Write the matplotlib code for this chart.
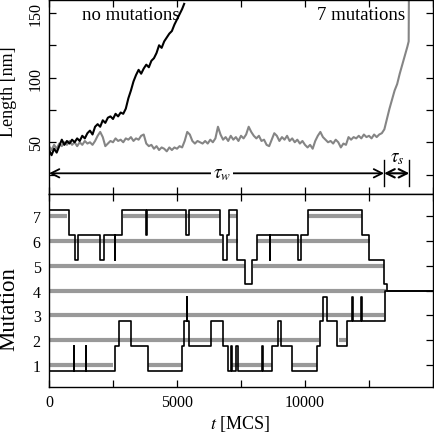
import matplotlib
matplotlib.use("Agg")
import matplotlib.pyplot as plt
import numpy as np
from matplotlib.ticker import MultipleLocator

plt.rcParams['font.family'] = ['Liberation Serif', 'DejaVu Serif']
plt.rcParams['mathtext.fontset'] = 'stix'

# ---------------- top panel data ----------------
gray_t = list(range(0, 14001, 100)) + [14050, 14060]
gray_len = [47, 44, 48, 45, 49, 47, 50, 48, 51, 48, 50,
            47, 50, 48, 51, 49, 50, 48, 51, 55, 58,
            54, 47, 49, 51, 50, 53, 51, 52, 50, 53,
            52, 54, 51, 53, 52, 55, 56, 49, 47, 48,
            45, 47, 44, 46, 45, 43, 46, 44, 46, 45,
            47, 46, 51, 58, 56, 51, 49, 51, 50, 49,
            51, 49, 52, 50, 53, 62, 56, 52, 54, 51,
            55, 52, 54, 51, 55, 53, 56, 62, 58, 55,
            53, 55, 51, 52, 48, 47, 52, 57, 55, 51,
            54, 52, 55, 51, 53, 50, 52, 49, 51, 48,
            46, 48, 45, 51, 55, 58, 54, 52, 50, 51,
            49, 52, 50, 46, 49, 48, 54, 52, 54, 53,
            55, 53, 56, 54, 55, 53, 56, 54, 56, 57,
            60, 68, 76, 83, 90, 95, 103, 110, 117, 124,
            128, 170]

black_t = list(range(0, 5201, 100)) + [5280]
black_len = [44, 40, 45, 42, 47, 52, 48, 51, 49, 52, 50,
             53, 51, 55, 53, 57, 59, 56, 62, 64, 62,
             67, 65, 69, 70, 68, 72, 70, 73, 72, 76,
             84, 90, 97, 102, 106, 103, 107, 110, 108, 113,
             115, 119, 125, 123, 128, 131, 134, 136, 141, 145,
             149, 153, 157]

tau_w_end = 13090
tau_s_end = 14075

# ---------------- bottom panel data ----------------
upper_t = [0, 790, 1000, 1150, 1992, 2148, 2560, 2580, 2870, 3780,
           3840, 5360, 5480, 6680, 6784, 6966, 7043, 7330, 7656, 7943,
           8112, 8625, 8645, 9740, 9830, 10130, 12214, 12500, 13100, 13190,
           15000]
upper_lv = [7.25, 6.25, 5.25, 6.25, 5.25, 6.25, 5.25, 6.25, 7.25, 6.25,
            7.25, 6.25, 7.25, 6.25, 5.25, 6.25, 7.25, 5.25, 4.25, 5.25,
            6.25, 5.25, 6.25, 5.25, 6.25, 7.25, 6.25, 5.25, 4.25, 4.0,
            4.0]

lower_t = [0, 970, 990, 1430, 1450, 2570, 2720, 3195, 3870, 5183,
           5286, 5390, 5410, 5460, 6320, 6810, 7005, 7100, 7130, 7290,
           7395, 8335, 8355, 8698, 8930, 9070, 9505, 10456, 10586, 10685,
           10870, 11237, 11654, 11830, 11870, 12200, 12225, 13110, 15000]
lower_lv = [0.75, 1.75, 0.75, 1.75, 0.75, 1.75, 2.75, 1.75, 0.75, 1.75,
            2.75, 3.75, 2.75, 1.75, 2.75, 1.75, 0.75, 1.75, 0.75, 1.75,
            0.75, 1.75, 0.75, 1.75, 2.75, 1.75, 0.75, 1.75, 2.75, 3.75,
            2.75, 1.75, 2.75, 3.75, 2.75, 3.75, 2.75, 4.0, 4.0]

gray_bars = {
    7: [(0, 690), (2900, 6680), (7043, 7330), (10130, 12214)],
    6: [(0, 6750), (6966, 7395), (8112, 12540)],
    5: [(0, 7650), (7950, 13086)],
    4: [(0, 13170)],
    3: [(0, 13080)],
    2: [(0, 10550), (11340, 11600)],
    1: [(0, 2512), (3870, 5200), (7100, 8700), (9505, 10456)],
}

W = 435
fig = plt.figure(figsize=(4.35, 4.35), dpi=100)
ax1 = fig.add_axes([49 / W, 1 - 195 / W, 384 / W, 194 / W])
ax2 = fig.add_axes([49 / W, 1 - 388 / W, 384 / W, 193 / W])

for ax in (ax1, ax2):
    ax.set_xlim(0, 15000)
    ax.xaxis.set_major_locator(MultipleLocator(5000))
    ax.xaxis.set_minor_locator(MultipleLocator(2500))
    ax.tick_params(which='both', direction='in', top=True, right=True,
                   length=5, width=0.9, labelsize=11.5)
    for s in ax.spines.values():
        s.set_linewidth(1.0)

# top panel
ax1.plot(gray_t, gray_len, color='#858585', lw=1.5)
ax1.plot(black_t, black_len, color='black', lw=1.5)
ax1.set_ylim(10, 160)
ax1.yaxis.set_major_locator(MultipleLocator(50))
ax1.yaxis.set_minor_locator(MultipleLocator(25))
ax1.tick_params(axis='x', labelbottom=False)
ax1.set_yticks([50, 100, 150])
ax1.set_yticklabels(['50', '100', '150'], rotation=90, va='center')

ax1.annotate('', xy=(0, 26), xytext=(tau_w_end, 26),
             arrowprops=dict(arrowstyle='<->,head_length=0.6,head_width=0.3',
                             lw=1.3, color='black', shrinkA=0, shrinkB=0))
ax1.annotate('', xy=(tau_w_end, 26), xytext=(tau_s_end, 26),
             arrowprops=dict(arrowstyle='<->,head_length=0.6,head_width=0.3',
                             lw=1.5, color='black', shrinkA=0, shrinkB=0))
ax1.plot([tau_w_end, tau_w_end], [16.5, 36], color='black', lw=1.0)
ax1.plot([tau_s_end, tau_s_end], [16.5, 36], color='black', lw=1.0)
ax1.text(6760, 26, r'$\tau_w$', ha='center', va='center', fontsize=13.5,
         bbox=dict(facecolor='white', edgecolor='none', pad=1.5))
ax1.text(13620, 38, r'$\tau_s$', ha='center', va='center', fontsize=13.5)

ax1.text(5100, 149, 'no mutations', ha='right', va='center', fontsize=13.5)
ax1.text(13900, 149, '7 mutations', ha='right', va='center', fontsize=13.5)

# bottom panel
for lv, segs in gray_bars.items():
    for a, b in segs:
        ax2.plot([a, b], [lv, lv], color='#999999', lw=3.0, solid_capstyle='butt')
ax2.plot(upper_t, upper_lv, drawstyle='steps-post', color='black', lw=1.2)
ax2.plot(lower_t, lower_lv, drawstyle='steps-post', color='black', lw=1.2)
ax2.set_ylim(0.1, 7.9)
ax2.set_yticks([1, 2, 3, 4, 5, 6, 7])
ax2.tick_params(axis='y', which='minor', left=False, right=False)
ax2.set_xticks([0, 5000, 10000])
ax2.tick_params(axis='x', pad=5)
ax2.tick_params(axis='y', pad=6)

fig.text(9 / W, 1 - 92 / W, 'Length [nm]', rotation=90, ha='center', va='center', fontsize=13)
fig.text(9 / W, 1 - 309 / W, 'Mutation', rotation=90, ha='center', va='center', fontsize=16.5)
fig.text(240 / W, 1 - 424 / W, r'$t$ [MCS]', ha='center', va='center', fontsize=13)

fig.savefig('out.png', dpi=100)
